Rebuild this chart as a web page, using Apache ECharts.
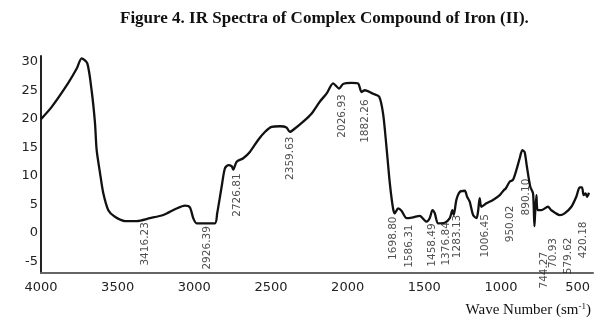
<!DOCTYPE html>
<html>
<head>
<meta charset="utf-8">
<script src="https://cdn.jsdelivr.net/npm/echarts@6/dist/echarts.min.js"></script>
<style>html,body{margin:0;padding:0;background:#fff}#chart{width:614px;height:324px}</style>
</head>
<body>
<div id="chart"></div>
<script>
// Wave numbers (cm-1) and transmittance
const waveNumbers = [4000,3930,3822,3767,3735,3698,3670,3648,3637,3615,3594,3561,3518,3452,3376,3290,3203,3116,3061,3029,3007,2985,2866,2851,2822,2801,2779,2757,2746,2724,2681,2638,2584,2540,2496,2442,2399,2377,2344,2290,2236,2182,2138,2095,2056,2030,1975,1932,1910,1888,1834,1795,1769,1747,1725,1704,1693,1671,1649,1616,1573,1530,1486,1465,1447,1432,1410,1367,1334,1317,1308,1291,1269,1236,1221,1204,1182,1160,1150,1139,1128,1095,1052,1008,982,969,943,922,900,878,861,846,831,809,791,782,778,769,761,737,694,672,617,585,541,509,487,472,461,448,439,426];
const transmittance = [19.95,22.1,26.3,28.8,30.6,29.7,25.0,19.3,14.5,10.5,7.0,4.0,2.85,2.1,2.1,2.6,3.15,4.3,4.8,4.5,2.6,1.7,1.7,3.45,8.1,11.3,11.9,11.7,11.1,12.5,13.1,14.2,16.3,17.7,18.6,18.7,18.5,17.7,18.3,19.5,20.9,23.0,24.4,26.2,25.3,26.1,26.3,26.2,24.7,25.0,24.4,23.9,20.9,15.1,8.7,4.3,3.45,4.3,3.9,2.6,2.75,3.0,2.0,2.6,4.0,3.45,1.7,1.8,2.6,4.0,3.15,5.8,7.2,7.4,6.35,5.5,3.15,2.6,3.7,6.1,4.6,5.2,5.8,6.65,7.5,7.8,9.0,9.3,11.0,13.1,14.5,14.2,11.6,8.1,6.95,1.2,3.15,6.65,4.0,4.0,4.6,4.0,3.15,3.45,4.6,6.35,8.0,8.0,6.65,6.95,6.35,7.05];

// Peak annotation texts and their anchors (wave number, value)
const peakLabels = ["3416.23","2926.39","2726.81","2359.63","2026.93","1882.26","1698.80","1586.31","1458.49","1376.84","1283.13","1006.45","950.02","890.10","744.27","70.93","579.62","420.18"];
const peakLabelX = [3322,2918,2722,2377,2032,1882,1702,1601,1448,1360,1285,1103,937,832,715,661,563,465];
const peakLabelY = [-1.9,-2.6,6.65,13.1,20.5,19.6,-0.9,-2.3,-2.1,-1.9,-0.6,-0.5,1.6,6.3,-6.5,-3.5,-4.0,-1.2];

const xTickStep = 500;
const yTickStep = 5;

const chart = echarts.init(document.getElementById('chart'), null, {renderer: 'canvas'});
const lineData = waveNumbers.map((w, i) => [w, transmittance[i]]);
const labelData = peakLabels.map((t, i) => ({name: t, value: [peakLabelX[i], peakLabelY[i]]}));

chart.setOption({
  animation: false,
  backgroundColor: '#fff',
  title: [
    {
      text: 'Figure 4. IR Spectra of Complex Compound of Iron (II).',
      left: 115, top: 5,
      textStyle: {fontFamily: 'Liberation Serif', fontWeight: 'bold', fontSize: 17, color: '#111'}
    },
    {
      text: '{a|Wave Number (sm}{s|-1}{a|)}',
      right: 18, top: 297,
      textStyle: {
        fontWeight: 'normal',
        rich: {
          a: {fontFamily: 'Liberation Serif', fontWeight: 'normal', fontSize: 15, color: '#111'},
          s: {fontFamily: 'Liberation Serif', fontWeight: 'normal', fontSize: 9, color: '#111', verticalAlign: 'top', padding: [0, 0, 8, 0]}
        }
      }
    }
  ],
  grid: {left: 41, right: 21, top: 56, bottom: 51},
  xAxis: {
    type: 'value', inverse: true, min: 400, max: 4000, interval: 100,
    axisLine: {show: true, onZero: false, lineStyle: {color: '#666', width: 2}},
    axisTick: {show: false},
    splitLine: {show: false},
    axisLabel: {
      margin: 8, fontFamily: 'DejaVu Sans', fontSize: 13, color: '#222',
      formatter: v => (v % xTickStep === 0 ? String(v) : '')
    }
  },
  yAxis: {
    type: 'value', min: -7, max: 31, interval: 1,
    axisLine: {show: true, onZero: false, lineStyle: {color: '#222', width: 2}},
    axisTick: {show: false},
    splitLine: {show: false},
    axisLabel: {
      margin: 3, fontFamily: 'DejaVu Sans', fontSize: 13, color: '#222',
      formatter: v => (v % yTickStep === 0 ? String(v) : '')
    }
  },
  series: [
    {
      type: 'line', data: lineData, showSymbol: false, smooth: 0.25,
      lineStyle: {color: '#111', width: 2.3}
    },
    {
      type: 'scatter', data: labelData, symbolSize: 0, silent: true,
      label: {
        show: true, position: 'inside', rotate: 90,
        formatter: p => p.name,
        fontFamily: 'DejaVu Sans', fontSize: 10.5, color: '#222'
      }
    }
  ]
});
</script>
</body>
</html>
